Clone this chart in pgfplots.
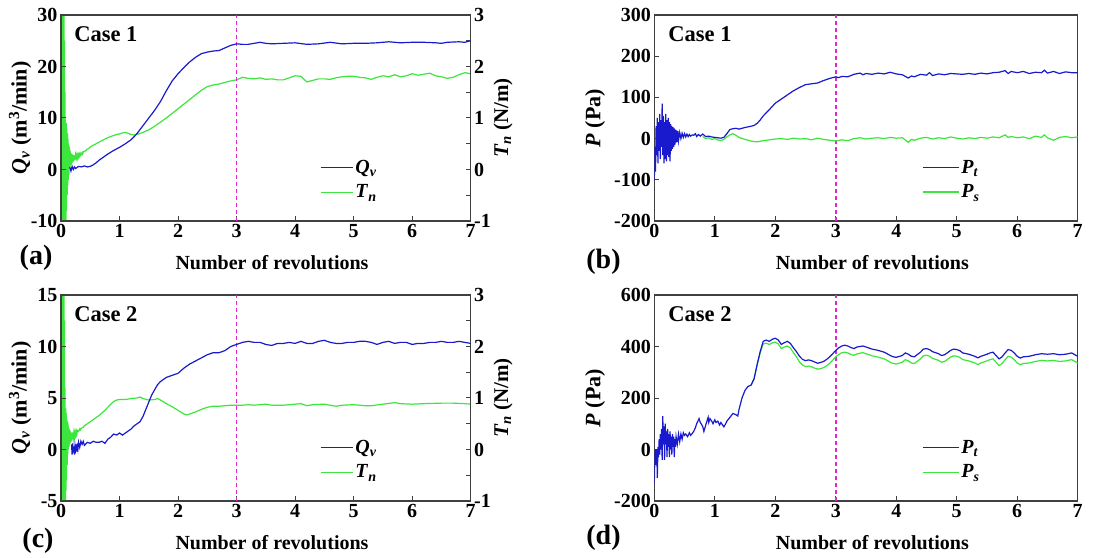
\documentclass[border=0pt]{standalone}
\usepackage{pgfplots}
\pgfplotsset{compat=1.18}
\usepackage{fontspec}
\setmainfont{Liberation Serif}
\definecolor{qblue}{RGB}{25,25,205}
\definecolor{tgreen}{RGB}{60,230,60}
\definecolor{dashmag}{RGB}{220,40,205}
\newcommand{\fs}{\bfseries\fontsize{20}{24}\selectfont}
\newcommand{\yfs}{\bfseries\fontsize{22}{26}\selectfont}
\newcommand{\rfs}{\bfseries\fontsize{21}{25}\selectfont}
\newcommand{\bi}[1]{\textbf{\textit{#1}}}
\pgfplotsset{
 base/.style={scale only axis, width=409.7pt, height=206pt, xmin=0, xmax=7,
  /pgf/number format/assume math mode=true,
  tick label style={font=\fs}, label style={font=\fs},
  tick align=inside, major tick length=5pt, minor tick length=5pt,
  tick style={black!75, line width=1pt},
  axis line style={black!75, line width=1.3pt},
  legend image code/.code={\draw[#1] (0pt,0pt) -- (32pt,0pt);},
  legend style={draw=none, fill=none, font=\fs, row sep=6pt, anchor=west},
  legend cell align=left,
  xlabel style={at={(axis description cs:0.515,-0.2)}, anchor=center},
 },
 mainax/.style={xtick={0,...,7}, xtick pos=left, ytick pos=left, xlabel={Number of revolutions}},
 vline/.style={draw=dashmag, color=dashmag, dash pattern=on 4pt off 3pt, line width=1.5pt, forget plot},
}
\begin{document}
\begin{tikzpicture}[x=1pt,y=1pt]
\useasboundingbox (0,0) rectangle (1102,557);

% ---------------- (a) ----------------
\begin{axis}[base, at={(61pt,336pt)}, anchor=south west, axis y line*=right, axis x line=none,
  ymin=-1, ymax=3, ytick={-1,0,1,2,3}, minor ytick={-0.5,0.5,1.5,2.5},
  ylabel={\bi{T}\textsubscript{\bi{n}} (N/m)}, ylabel style={font=\rfs, at={(axis description cs:1.079,0.5)}, anchor=center}]
\addplot[tgreen, line width=1.2pt] coordinates {
(0,4)(0.005,-2)(0.01,4)(0.015,-2)(0.02,4)(0.025,-2)(0.03,4)(0.035,-2)(0.04,4)(0.045,-2)(0.05,4)(0.055,-2)
(0.06,2.5)(0.065,-2)(0.07,1.5)(0.075,-1.5)(0.08,0.9)(0.085,-1)(0.09,0.9)(0.095,-0.8)(0.1,0.8)(0.105,-0.5)
(0.11,0.7)(0.115,-0.3)(0.12,0.6)(0.125,-0.2)(0.13,0.5)(0.135,-0.1)(0.14,0.45)(0.145,0.0)(0.15,0.4)(0.155,0.05)
(0.16,0.35)(0.165,0.08)(0.17,0.32)(0.175,0.1)(0.18,0.3)(0.185,0.12)(0.19,0.3)(0.195,0.14)(0.2,0.28)(0.205,0.15)
(0.21,0.28)(0.215,0.17)(0.22,0.27)(0.225,0.18)(0.23,0.27)(0.235,0.19)(0.24,0.28)(0.245,0.2)(0.25,0.28)(0.26,0.21)
(0.27,0.28)(0.28,0.22)(0.29,0.29)(0.3,0.24)(0.31,0.3)(0.32,0.26)(0.33,0.31)(0.34,0.28)(0.36,0.33)(0.37,0.30)(0.38,0.34)
(0.4,0.36)(0.42,0.36)(0.45,0.4)(0.47,0.40)(0.5,0.44)(0.55,0.47)(0.6,0.5)(0.65,0.53)(0.7,0.56)(0.75,0.59)(0.8,0.62)
(0.85,0.64)(0.9,0.66)(0.95,0.68)(1.0,0.69)(1.05,0.71)(1.1,0.72)(1.15,0.7)(1.2,0.68)(1.25,0.67)(1.3,0.68)(1.35,0.7)
(1.4,0.72)(1.5,0.77)(1.6,0.84)(1.7,0.92)(1.8,1.0)(1.9,1.09)(2.0,1.18)(2.1,1.27)(2.2,1.36)(2.3,1.45)(2.4,1.54)
(2.5,1.61)(2.6,1.64)(2.7,1.66)(2.8,1.69)(2.9,1.72)(3.0,1.74)(3.1,1.79)(3.2,1.77)(3.3,1.76)(3.4,1.78)(3.5,1.75)
(3.6,1.76)(3.7,1.74)(3.8,1.74)(3.9,1.78)(4.0,1.82)(4.1,1.81)(4.2,1.7)(4.3,1.73)(4.4,1.76)(4.5,1.76)(4.6,1.75)
(4.7,1.78)(4.8,1.8)(4.9,1.81)(5.0,1.81)(5.1,1.79)(5.2,1.78)(5.3,1.75)(5.4,1.79)(5.5,1.82)(5.6,1.8)(5.7,1.84)
(5.8,1.8)(5.9,1.82)(6.0,1.86)(6.1,1.83)(6.2,1.85)(6.3,1.87)(6.4,1.82)(6.5,1.8)(6.6,1.77)(6.7,1.79)(6.8,1.84)
(6.9,1.88)(7.0,1.86)};
\end{axis}
\begin{axis}[base, mainax, at={(61pt,336pt)}, anchor=south west,
  ymin=-10, ymax=30, ytick={-10,0,10,20,30},
  ylabel={\bi{Q}\textsubscript{\bi{v}} (m\textsuperscript{3}/min)}, ylabel style={font=\yfs, at={(axis description cs:-0.100,0.5)}, anchor=center},
  legend style={at={(axis description cs:0.625,0.2)}}]
\addplot[vline] coordinates {(3,-10) (3,30)};
\addplot[qblue, line width=1.2pt] coordinates {
(0.15,0.5)(0.17,-0.3)(0.19,0.6)(0.21,0.0)(0.23,0.5)(0.25,0.2)(0.3,0.6)(0.35,0.5)(0.4,0.7)(0.45,0.5)(0.5,0.6)
(0.55,0.9)(0.6,1.3)(0.65,1.8)(0.7,2.2)(0.8,3.0)(0.9,3.7)(1.0,4.3)(1.1,5.0)(1.2,5.8)(1.3,7.0)(1.4,8.5)(1.5,10.0)
(1.6,11.5)(1.7,13.2)(1.8,15.3)(1.9,17.2)(2.0,18.6)(2.1,19.8)(2.2,20.9)(2.3,21.8)(2.4,22.5)(2.5,22.8)(2.6,23.0)
(2.7,23.1)(2.8,23.6)(2.9,24.1)(3.0,24.4)(3.1,24.3)(3.2,24.3)(3.3,24.5)(3.4,24.7)(3.5,24.5)(3.6,24.4)(3.8,24.5)
(4.0,24.6)(4.2,24.3)(4.4,24.4)(4.6,24.7)(4.8,24.4)(5.0,24.5)(5.2,24.5)(5.4,24.6)(5.6,24.8)(5.8,24.6)(6.0,24.7)
(6.2,24.7)(6.4,24.6)(6.5,24.5)(6.6,24.7)(6.8,24.8)(6.9,24.7)(7.0,25.0)};
\addlegendentry{\bi{Q}\textsubscript{\bi{v}}}
\addlegendimage{tgreen, line width=1.2pt}
\addlegendentry{\bi{T}\textsubscript{\bi{n}}}
\node[anchor=base west, font=\bfseries\fontsize{22.5}{27}\selectfont] at (axis description cs:0.024,0.869) {Case 1};
\end{axis}

% ---------------- (b) ----------------
\begin{axis}[base, mainax, width=423.4pt, at={(654.3pt,336pt)}, anchor=south west,
  ymin=-200, ymax=300, ytick={-200,-100,0,100,200,300},
  ylabel={\bi{P} (Pa)}, ylabel style={font=\yfs, at={(axis description cs:-0.140,0.5)}, anchor=center},
  legend image code/.code={\draw[#1] (0pt,0pt) -- (36pt,0pt);},
  legend style={at={(axis description cs:0.625,0.2)}}]
\addplot[vline] coordinates {(3,-200) (3,300)};
\addplot[tgreen, line width=1.2pt, forget plot] coordinates {
(0.8,5)(0.85,0)(0.9,2)(0.95,-2)(1.0,0)(1.05,-3)(1.1,-5)(1.15,-2)(1.2,4)(1.25,9)(1.3,12)(1.35,8)(1.4,3)(1.5,-2)
(1.6,-6)(1.7,-8)(1.8,-5)(1.9,-3)(2.0,-1)(2.1,0)(2.2,-2)(2.3,1)(2.4,-1)(2.5,0)(2.6,-3)(2.7,1)(2.8,-2)(2.9,-4)
(3.0,-6)(3.1,-3)(3.2,-5)(3.3,0)(3.4,2)(3.5,-1)(3.6,1)(3.7,2)(3.8,0)(3.9,3)(4.0,1)(4.1,2)(4.2,-9)(4.25,-2)
(4.3,-4)(4.4,1)(4.5,3)(4.6,-1)(4.7,2)(4.8,0)(4.9,4)(5.0,1)(5.1,-1)(5.2,2)(5.3,0)(5.4,3)(5.5,1)(5.6,4)(5.7,2)
(5.8,9)(5.85,3)(5.9,5)(6.0,2)(6.1,4)(6.2,0)(6.3,6)(6.4,3)(6.45,9)(6.5,2)(6.6,-4)(6.7,3)(6.8,5)(6.9,2)(7.0,4)};
\addplot[qblue, line width=1.2pt] coordinates {
(0,-100)(0.01,-20)(0.02,-80)(0.03,30)(0.04,-40)(0.05,50)(0.06,-60)(0.07,40)(0.08,-30)(0.09,60)(0.10,-50)
(0.11,45)(0.12,-20)(0.13,85)(0.14,-40)(0.15,55)(0.16,-60)(0.17,40)(0.18,-50)(0.19,60)(0.20,-55)(0.21,45)
(0.22,-40)(0.23,50)(0.24,-45)(0.25,40)(0.26,-55)(0.27,35)(0.28,-30)(0.29,30)(0.30,-25)(0.31,28)(0.32,-20)
(0.33,25)(0.34,-15)(0.35,22)(0.36,-10)(0.37,20)(0.38,-8)(0.39,18)(0.40,-5)(0.42,15)(0.44,0)(0.46,13)(0.48,3)
(0.50,12)(0.52,4)(0.54,11)(0.56,5)(0.58,10)(0.6,6)(0.63,9)(0.65,8)(0.68,12)(0.7,5)(0.73,10)(0.76,6)(0.8,11)
(0.85,5)(0.9,6)(0.95,4)(1.0,3)(1.05,2)(1.1,1)(1.15,3)(1.2,12)(1.25,22)(1.3,24)(1.35,25)(1.4,23)(1.5,27)
(1.6,30)(1.65,32)(1.7,37)(1.75,45)(1.8,55)(1.9,70)(2.0,86)(2.1,96)(2.2,106)(2.3,116)(2.4,124)(2.5,131)
(2.6,133)(2.7,135)(2.8,141)(2.9,146)(3.0,150)(3.05,148)(3.1,151)(3.2,150)(3.3,156)(3.4,159)(3.45,155)(3.5,158)
(3.6,156)(3.7,159)(3.8,157)(3.9,161)(4.0,157)(4.1,155)(4.2,147)(4.25,152)(4.3,150)(4.4,156)(4.5,154)(4.55,160)
(4.6,153)(4.7,157)(4.8,155)(4.9,158)(5.0,157)(5.1,156)(5.2,158)(5.3,156)(5.4,159)(5.5,157)(5.6,160)(5.7,161)
(5.8,165)(5.85,158)(5.9,163)(6.0,160)(6.1,163)(6.2,158)(6.3,161)(6.4,160)(6.45,166)(6.5,159)(6.6,163)(6.7,158)
(6.8,162)(6.9,160)(7.0,160)};
\addlegendentry{\bi{P}\textsubscript{\bi{t}}}
\addlegendimage{tgreen, line width=1.2pt}
\addlegendentry{\bi{P}\textsubscript{\bi{s}}}
\node[anchor=base west, font=\bfseries\fontsize{22.5}{27}\selectfont] at (axis description cs:0.025,0.869) {Case 1};
\end{axis}

% ---------------- (c) ----------------
\begin{axis}[base, at={(61pt,56pt)}, anchor=south west, axis y line*=right, axis x line=none,
  ymin=-1, ymax=3, ytick={-1,0,1,2,3}, minor ytick={-0.5,0.5,1.5,2.5},
  ylabel={\bi{T}\textsubscript{\bi{n}} (N/m)}, ylabel style={font=\rfs, at={(axis description cs:1.079,0.5)}, anchor=center}]
\addplot[tgreen, line width=1.2pt] coordinates {
(0,4)(0.005,-2)(0.01,4)(0.015,-2)(0.02,4)(0.025,-2)(0.03,4)(0.035,-2)(0.04,4)(0.045,-2)(0.05,4)(0.055,-2)
(0.06,2.5)(0.065,-1.5)(0.07,1.2)(0.075,-1.2)(0.08,0.8)(0.085,-0.8)(0.09,0.7)(0.095,-0.6)(0.1,0.6)(0.105,-0.3)
(0.11,0.55)(0.115,-0.1)(0.12,0.5)(0.125,0.0)(0.13,0.45)(0.135,0.05)(0.14,0.4)(0.145,0.1)(0.15,0.38)(0.155,0.12)
(0.16,0.35)(0.165,0.15)(0.17,0.33)(0.175,0.17)(0.18,0.32)(0.185,0.18)(0.19,0.32)(0.195,0.2)(0.2,0.33)(0.21,0.22)
(0.22,0.33)(0.23,0.24)(0.24,0.34)(0.25,0.27)(0.26,0.35)(0.27,0.29)(0.28,0.37)(0.3,0.35)(0.32,0.4)(0.33,0.38)
(0.35,0.42)(0.37,0.42)(0.4,0.46)(0.45,0.5)(0.5,0.54)(0.55,0.58)(0.6,0.62)(0.65,0.66)(0.7,0.71)(0.75,0.76)
(0.8,0.82)(0.85,0.88)(0.9,0.93)(0.95,0.96)(1.0,0.97)(1.1,0.97)(1.2,0.99)(1.3,1.0)(1.35,1.02)(1.4,0.99)(1.5,0.96)
(1.6,0.97)(1.65,0.99)(1.7,0.96)(1.8,0.89)(1.9,0.83)(2.0,0.76)(2.1,0.69)(2.15,0.67)(2.2,0.69)(2.3,0.73)(2.4,0.78)
(2.5,0.82)(2.6,0.84)(2.7,0.84)(2.8,0.85)(2.9,0.86)(3.0,0.86)(3.1,0.86)(3.2,0.87)(3.3,0.86)(3.4,0.87)(3.5,0.88)
(3.6,0.86)(3.8,0.86)(4.0,0.88)(4.1,0.89)(4.2,0.85)(4.3,0.87)(4.5,0.88)(4.6,0.86)(4.7,0.84)(4.8,0.86)(5.0,0.87)
(5.2,0.85)(5.3,0.85)(5.5,0.88)(5.7,0.91)(5.8,0.89)(6.0,0.88)(6.2,0.89)(6.5,0.9)(6.7,0.9)(6.9,0.89)(7.0,0.88)};
\end{axis}
\begin{axis}[base, mainax, at={(61pt,56pt)}, anchor=south west,
  ymin=-5, ymax=15, ytick={-5,0,5,10,15},
  ylabel={\bi{Q}\textsubscript{\bi{v}} (m\textsuperscript{3}/min)}, ylabel style={font=\yfs, at={(axis description cs:-0.100,0.5)}, anchor=center},
  legend style={at={(axis description cs:0.625,0.2)}}]
\addplot[vline] coordinates {(3,-5) (3,15)};
\addplot[qblue, line width=1.2pt] coordinates {
(0.18,0.5)(0.19,-0.5)(0.2,0.6)(0.21,-0.3)(0.22,0.3)(0.23,-0.5)(0.24,0.4)(0.25,0.0)(0.26,0.5)(0.27,-0.2)(0.28,0.6)
(0.29,0.1)(0.3,0.7)(0.32,0.2)(0.34,0.8)(0.36,0.5)(0.38,0.8)(0.4,0.4)(0.45,0.7)(0.5,0.6)(0.55,0.8)(0.6,0.7)
(0.65,0.7)(0.7,0.8)(0.75,0.6)(0.8,1.0)(0.85,1.2)(0.9,1.5)(0.95,1.4)(1.0,1.6)(1.05,1.4)(1.1,1.6)(1.15,1.8)
(1.2,2.0)(1.25,2.3)(1.3,2.5)(1.35,2.7)(1.4,3.2)(1.45,3.9)(1.5,4.6)(1.55,5.3)(1.6,5.8)(1.65,6.3)(1.7,6.6)
(1.8,7.0)(1.9,7.2)(2.0,7.4)(2.1,7.9)(2.2,8.3)(2.3,8.6)(2.4,8.9)(2.5,9.2)(2.6,9.4)(2.7,9.4)(2.8,9.6)(2.9,10.0)
(3.0,10.2)(3.1,10.4)(3.2,10.5)(3.3,10.4)(3.4,10.4)(3.5,10.2)(3.6,10.1)(3.7,10.3)(3.8,10.3)(3.9,10.4)(4.0,10.3)
(4.1,10.5)(4.2,10.3)(4.3,10.3)(4.4,10.5)(4.5,10.6)(4.6,10.4)(4.7,10.3)(4.8,10.3)(4.9,10.4)(5.0,10.4)(5.1,10.5)
(5.2,10.5)(5.3,10.4)(5.4,10.2)(5.5,10.4)(5.6,10.5)(5.7,10.3)(5.8,10.4)(5.9,10.4)(6.0,10.2)(6.1,10.3)(6.2,10.3)
(6.3,10.4)(6.4,10.4)(6.5,10.5)(6.6,10.4)(6.7,10.4)(6.8,10.5)(6.9,10.4)(7.0,10.3)};
\addlegendentry{\bi{Q}\textsubscript{\bi{v}}}
\addlegendimage{tgreen, line width=1.2pt}
\addlegendentry{\bi{T}\textsubscript{\bi{n}}}
\node[anchor=base west, font=\bfseries\fontsize{22.5}{27}\selectfont] at (axis description cs:0.024,0.869) {Case 2};
\end{axis}

% ---------------- (d) ----------------
\begin{axis}[base, mainax, width=423.4pt, at={(654.3pt,56pt)}, anchor=south west,
  ymin=-200, ymax=600, ytick={-200,0,200,400,600},
  ylabel={\bi{P} (Pa)}, ylabel style={font=\yfs, at={(axis description cs:-0.140,0.5)}, anchor=center},
  legend image code/.code={\draw[#1] (0pt,0pt) -- (36pt,0pt);},
  legend style={at={(axis description cs:0.625,0.2)}}]
\addplot[vline] coordinates {(3,-200) (3,600)};
\addplot[tgreen, line width=1.2pt, forget plot] coordinates {
(1.6,250)(1.65,275)(1.7,328)(1.75,375)(1.8,410)(1.85,413)(1.9,408)(1.95,414)(2.0,417)(2.05,410)(2.1,392)
(2.15,398)(2.2,402)(2.25,394)(2.3,376)(2.35,360)(2.4,340)(2.45,328)(2.5,322)(2.55,324)(2.6,321)(2.65,316)
(2.7,312)(2.75,314)(2.8,318)(2.85,325)(2.9,335)(2.95,347)(3.0,360)(3.05,369)(3.1,376)(3.15,378)(3.2,375)
(3.25,369)(3.3,366)(3.35,371)(3.4,374)(3.45,376)(3.5,372)(3.6,364)(3.7,359)(3.8,352)(3.85,346)(3.9,339)
(3.95,334)(4.0,332)(4.1,339)(4.15,349)(4.2,344)(4.25,336)(4.3,334)(4.4,352)(4.45,364)(4.5,366)(4.55,362)
(4.6,354)(4.7,346)(4.75,339)(4.8,342)(4.9,359)(4.95,364)(5.0,362)(5.05,358)(5.1,349)(5.2,344)(5.3,336)
(5.35,330)(5.4,336)(5.5,344)(5.55,349)(5.6,352)(5.65,339)(5.7,326)(5.75,334)(5.8,349)(5.85,362)(5.9,359)
(5.95,349)(6.0,336)(6.05,329)(6.1,334)(6.2,336)(6.3,342)(6.4,346)(6.5,344)(6.6,346)(6.7,342)(6.8,344)
(6.9,349)(7.0,336)};
\addplot[qblue, line width=1.2pt] coordinates {
(0,-130)(0.01,-20)(0.02,0)(0.03,-60)(0.04,0)(0.05,-110)(0.06,10)(0.07,-30)(0.08,40)(0.09,-20)(0.1,60)(0.11,0)
(0.12,80)(0.13,-40)(0.14,130)(0.15,20)(0.16,90)(0.17,-40)(0.18,100)(0.19,20)(0.2,70)(0.21,-30)(0.22,80)
(0.23,10)(0.24,60)(0.25,-30)(0.26,70)(0.27,0)(0.28,50)(0.29,-20)(0.3,60)(0.31,10)(0.32,50)(0.33,-30)(0.34,40)
(0.35,10)(0.36,50)(0.38,20)(0.4,60)(0.42,30)(0.44,60)(0.46,40)(0.48,65)(0.5,55)(0.52,60)(0.55,50)(0.58,65)
(0.6,55)(0.62,60)(0.65,70)(0.68,85)(0.7,100)(0.72,110)(0.74,120)(0.76,105)(0.8,90)(0.82,70)(0.85,95)(0.87,110)
(0.89,125)(0.9,105)(0.92,120)(0.95,110)(0.97,100)(1.0,115)(1.02,105)(1.05,110)(1.08,95)(1.1,105)(1.13,95)
(1.15,88)(1.18,100)(1.2,110)(1.25,125)(1.3,140)(1.35,135)(1.38,130)(1.4,155)(1.45,200)(1.5,230)(1.55,245)
(1.6,250)(1.65,275)(1.7,330)(1.75,380)(1.8,420)(1.85,425)(1.9,420)(1.95,428)(2.0,432)(2.05,425)(2.1,408)
(2.15,415)(2.2,420)(2.25,412)(2.3,395)(2.35,380)(2.4,362)(2.45,350)(2.5,345)(2.55,348)(2.6,345)(2.65,340)
(2.7,335)(2.75,338)(2.8,342)(2.85,350)(2.9,360)(2.95,372)(3.0,385)(3.05,395)(3.1,402)(3.15,405)(3.2,402)
(3.25,396)(3.3,392)(3.35,398)(3.4,400)(3.45,402)(3.5,398)(3.6,390)(3.7,385)(3.8,378)(3.85,372)(3.9,365)
(3.95,360)(4.0,358)(4.1,365)(4.15,375)(4.2,370)(4.25,362)(4.3,360)(4.4,378)(4.45,390)(4.5,392)(4.55,388)
(4.6,380)(4.7,372)(4.75,365)(4.8,368)(4.9,385)(4.95,390)(5.0,388)(5.05,384)(5.1,375)(5.2,370)(5.3,362)
(5.35,356)(5.4,362)(5.5,370)(5.55,375)(5.6,378)(5.65,365)(5.7,352)(5.75,360)(5.8,375)(5.85,388)(5.9,385)
(5.95,375)(6.0,362)(6.05,355)(6.1,360)(6.2,362)(6.3,368)(6.4,372)(6.5,370)(6.6,372)(6.7,368)(6.8,370)
(6.9,375)(7.0,362)};
\addlegendentry{\bi{P}\textsubscript{\bi{t}}}
\addlegendimage{tgreen, line width=1.2pt}
\addlegendentry{\bi{P}\textsubscript{\bi{s}}}
\node[anchor=base west, font=\bfseries\fontsize{22.5}{27}\selectfont] at (axis description cs:0.025,0.869) {Case 2};
\end{axis}

\node[font=\bfseries\fontsize{28}{32}\selectfont] at (36pt,299pt) {(a)};
\node[font=\bfseries\fontsize{28}{32}\selectfont] at (603.5pt,295pt) {(b)};
\node[font=\bfseries\fontsize{28}{32}\selectfont] at (38pt,16pt) {(c)};
\node[font=\bfseries\fontsize{28}{32}\selectfont] at (603.5pt,19pt) {(d)};
\end{tikzpicture}
\end{document}
